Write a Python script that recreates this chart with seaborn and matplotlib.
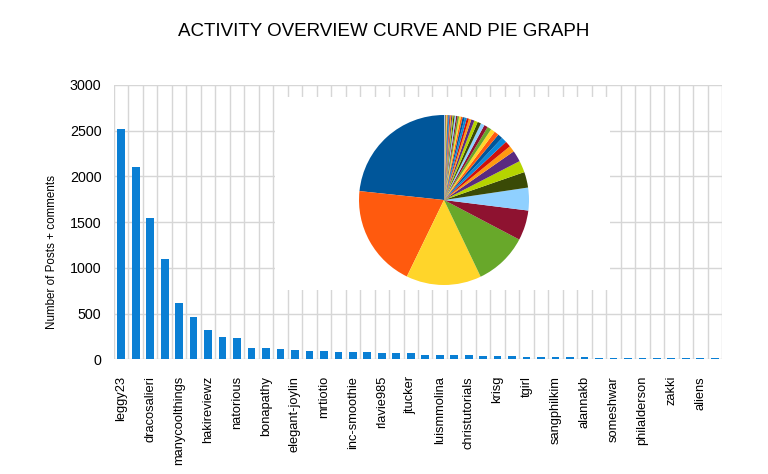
import matplotlib
matplotlib.use("Agg")
import matplotlib.pyplot as plt
from matplotlib.patches import Rectangle
import numpy as np
import pandas as pd
import seaborn as sns

# ---------------- data ----------------
ranks = list(range(1, 43))
posts = [2515, 2100, 1540, 1100, 616, 467, 321, 241, 230, 128,
         120, 110, 102, 94, 88, 83, 77, 77, 72, 72,
         66, 50, 44, 44, 44, 36, 36, 33, 29, 29,
         25, 22, 22, 18, 18, 18, 18, 15, 15, 15,
         15, 15]
tick_labels = ["leggy23", "dracosalieri", "manycoolthings", "hakireviewz",
               "natorious", "bonapathy", "elegant-joylin", "mrtiotio",
               "inc-smoothie", "rlavie985", "jtucker", "luismmolina",
               "christutorials", "krisg", "tgirl", "sangphilkim",
               "alannakb", "someshwar", "philalderson", "zakki", "aliens"]
y_ticks = [0, 500, 1000, 1500, 2000, 2500, 3000]
pie_colors = ["#00569a", "#ff5a0e", "#ffd52a", "#68a82a", "#8e1230", "#8fd0ff",
              "#3a4a06", "#b5d400", "#5a2a80", "#ff9a10", "#d0100a", "#0a88d8"]

title = "ACTIVITY OVERVIEW CURVE AND PIE GRAPH"
ylabel = "Number of Posts + comments"

# ---------------- style ----------------
sns.set_style("white")
plt.rcParams["font.family"] = ["Liberation Sans", "DejaVu Sans"]
plt.rcParams["text.color"] = "black"
plt.rcParams["axes.labelcolor"] = "black"
plt.rcParams["xtick.color"] = "black"
plt.rcParams["ytick.color"] = "black"

W, H = 768, 474
fig = plt.figure(figsize=(W / 100, H / 100), dpi=100)

def fx(px):
    return px / W

def fy(py):
    return 1 - py / H

L, R, T, B = 114, 722, 85, 359.3
ax = fig.add_axes([fx(L), fy(B), fx(R - L), fy(T) - fy(B)])

df = pd.DataFrame({"rank": ranks, "posts": posts})
sns.barplot(data=df, x="rank", y="posts", color="#0a7fd4", saturation=1,
            width=0.53, linewidth=0, ax=ax, zorder=2)

n = len(ranks)
ax.set_xlim(-0.5, n - 0.5)
ax.set_ylim(0, 3000)
ax.set_yticks(y_ticks)
ax.set_yticklabels([str(v) for v in y_ticks], fontsize=10.3)

ax.set_xticks(np.arange(0, n, 2))
ax.set_xticklabels(tick_labels, rotation=90, fontsize=9.3, va="top")
ax.set_xticks(np.arange(-0.5, n, 1), minor=True)

ax.tick_params(axis="x", which="major", length=0, pad=12)
ax.tick_params(axis="x", which="minor", length=4, color="#b8b8b8", width=1)
ax.tick_params(axis="y", which="major", length=6, color="#b8b8b8", width=1, pad=3)

ax.set_axisbelow(True)
ax.grid(False)
ax.xaxis.grid(True, which="minor", color="#d6d6d6", linewidth=1)
ax.yaxis.grid(True, which="major", color="#d6d6d6", linewidth=1)
for s in ax.spines.values():
    s.set_visible(False)

ax.set_xlabel("")
ax.set_ylabel(ylabel, fontsize=8.4)
ax.yaxis.set_label_coords(fx(58 - L) / fx(R - L), (fy(252) - fy(B)) / (fy(T) - fy(B)))

# white panel hiding gridlines behind the pie
ax.add_patch(Rectangle((fx(275), fy(290)), fx(610 - 275), fy(97) - fy(290),
                       transform=fig.transFigure, facecolor="white",
                       edgecolor="none", zorder=0.8))

# ---------------- pie ----------------
cx, cy, r = 444, 200, 85
pax = fig.add_axes([fx(cx - r), fy(cy + r), fx(2 * r), fy(cy - r) - fy(cy + r)])
colors = [pie_colors[i % len(pie_colors)] for i in range(n)]
pax.pie(posts, colors=colors, startangle=90, counterclock=True,
        wedgeprops=dict(linewidth=0))
pax.set_xlim(-1, 1)
pax.set_ylim(-1, 1)
pax.axis("off")

fig.text(0.5, fy(32), title, ha="center", va="center", fontsize=13.5)

fig.savefig("out.png", dpi=100)
